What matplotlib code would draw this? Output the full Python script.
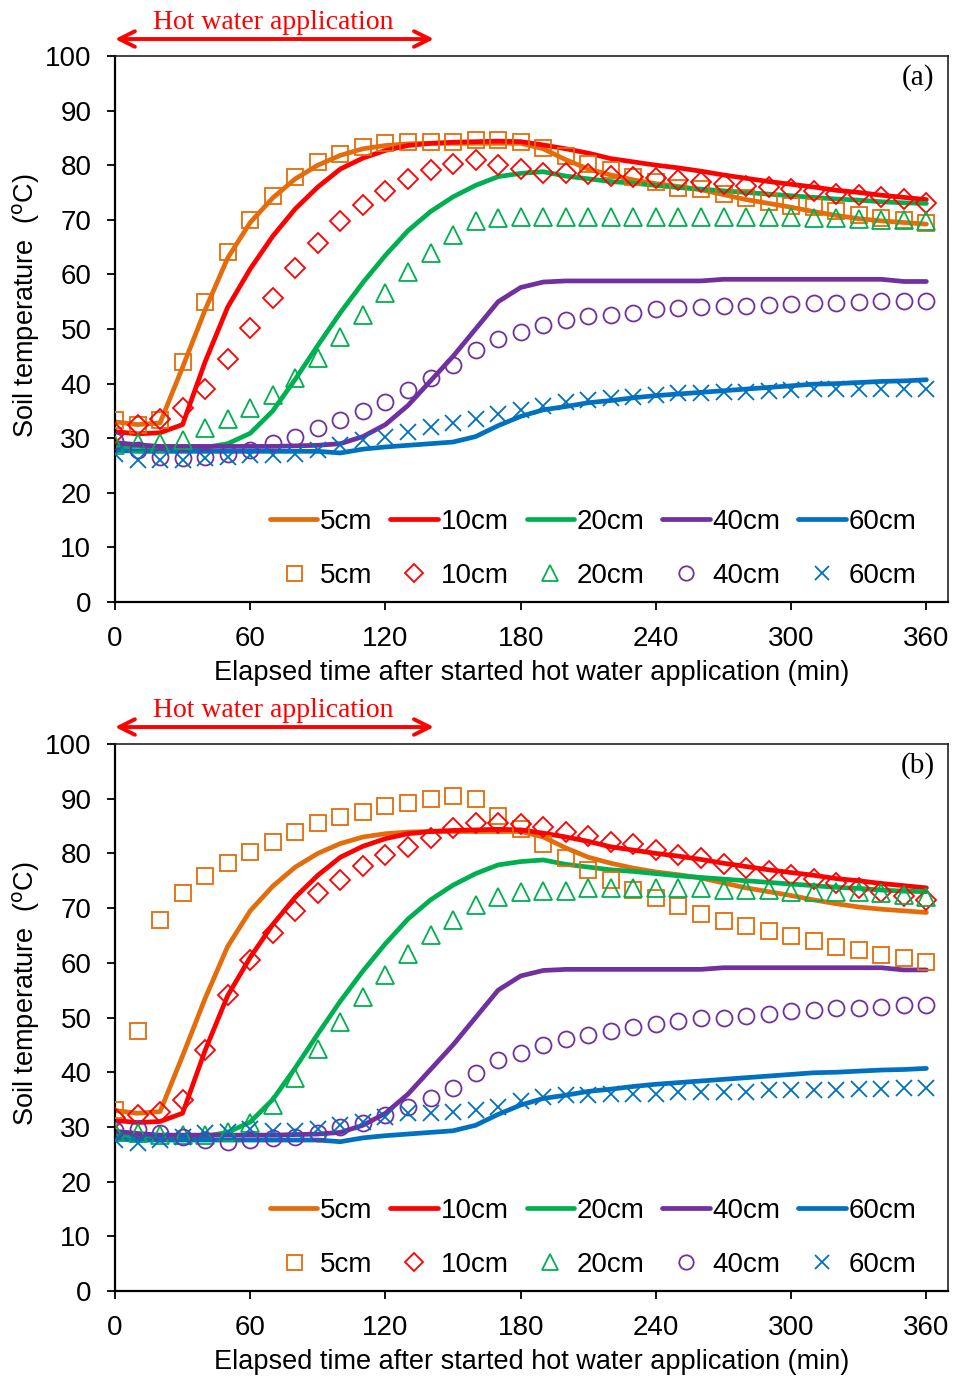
import numpy as np
import matplotlib.pyplot as plt
from matplotlib.lines import Line2D

plt.rcParams['font.family'] = ['Liberation Sans', 'DejaVu Sans']

# time axis (min), every 10 min
t = np.arange(0, 361, 10)

# simulated temperatures (lines) - shared by both panels
sim_5 = [33, 32.5, 32.8, 43, 53.5, 63, 69.5, 74, 77.5, 80, 81.8, 83, 83.6, 83.9, 84, 84, 84, 84, 84,
         83, 81, 79.3, 78.2, 77.3, 76.6, 76.1, 75.5, 74.6, 73.7, 73, 72.3, 71.5, 70.8, 70.2, 69.8, 69.5, 69.2]
sim_10 = [31.2, 30.8, 31, 32.5, 44, 54, 61, 67, 72, 76, 79.3, 81.3, 82.7, 83.6, 84, 84.2, 84.3, 84.4, 84.3,
          83.7, 83, 82.2, 81.2, 80.6, 80, 79.5, 78.9, 78.2, 77.6, 77, 76.5, 76, 75.4, 75, 74.5, 74.1, 73.7]
sim_20 = [28.5, 28.5, 28.3, 28.2, 28.3, 29, 30.9, 35, 40.8, 47, 53, 58.5, 63.5, 68, 71.5, 74.2, 76.3, 77.9, 78.5,
          78.8, 78, 77.5, 77, 76.7, 76.3, 75.9, 75.6, 75.3, 75, 74.7, 74.4, 74.1, 73.8, 73.6, 73.3, 73.1, 73]
sim_40 = [29.2, 28.8, 28.5, 28.5, 28.5, 28.5, 28.5, 28.5, 28.6, 28.7, 29, 30.3, 32.5, 36, 40.5, 45, 50, 55, 57.6,
          58.6, 58.8, 58.8, 58.8, 58.8, 58.8, 58.8, 58.8, 59.1, 59.1, 59.1, 59.1, 59.1, 59.1, 59.1, 59.1, 58.7, 58.7]
sim_60 = [27.8, 27.6, 27.6, 27.6, 27.6, 27.6, 27.6, 27.6, 27.6, 27.6, 27.3, 28, 28.4, 28.7, 29, 29.3, 30.3, 32.3, 34,
          35.2, 35.8, 36.5, 36.9, 37.4, 37.8, 38.1, 38.4, 38.7, 39, 39.3, 39.6, 39.9, 40, 40.2, 40.4, 40.5, 40.7]

# measured temperatures, panel (a)
obs_a_5 = [33.3, 32.5, 33.3, 44, 55, 64.1, 70, 74.4, 77.9, 80.5, 82, 83.4, 84, 84.3, 84.3, 84.3, 84.6, 84.6, 84.3,
           83.1, 81.6, 80.3, 79.1, 77.9, 77.0, 75.9, 75.6, 74.7, 73.9, 73.3, 72.5, 72.4, 71.6, 70.9, 70.3, 70, 69.4]
obs_a_10 = [31, 32.4, 33.6, 35.5, 39.1, 44.5, 50.2, 55.6, 61.1, 65.7, 69.7, 72.7, 75.3, 77.5, 79.1, 80.3, 81, 80, 79.3,
            78.6, 78.6, 78.4, 78, 77.8, 77.6, 77.3, 77, 76.6, 76.2, 76, 75.6, 75.3, 74.8, 74.5, 74.1, 73.8, 73.1]
obs_a_20 = [28.8, 29.1, 29.1, 29.7, 31.8, 33.6, 35.5, 37.9, 41, 44.6, 48.6, 52.6, 56.6, 60.5, 63.9, 67.2, 69.7, 70.3, 70.6,
            70.6, 70.6, 70.6, 70.6, 70.6, 70.6, 70.6, 70.6, 70.6, 70.6, 70.6, 70.5, 70.4, 70.3, 70.2, 70, 69.9, 69.7]
obs_a_40 = [29.4, 27.8, 26.6, 26.3, 26.6, 27.2, 27.8, 29.1, 30.3, 31.8, 33.3, 34.9, 36.7, 38.8, 41, 43.4, 46.2, 48.1, 49.5,
            50.7, 51.6, 52.3, 52.6, 53, 53.6, 53.8, 54, 54.2, 54.2, 54.4, 54.6, 54.8, 54.8, 55, 55.1, 55.1, 55.1]
obs_a_60 = [27.2, 26, 26, 26, 26.3, 26.6, 26.9, 26.9, 27.2, 27.8, 28.8, 29.7, 30.3, 31.2, 32.1, 32.7, 33.6, 34.5, 35.2,
            35.9, 36.7, 37, 37.3, 37.6, 37.9, 38.2, 38.3, 38.5, 38.5, 38.7, 38.8, 39, 39, 39.1, 39.1, 39.1, 39.1]

# measured temperatures, panel (b)
obs_b_5 = [33.1, 47.5, 67.8, 72.8, 75.9, 78.2, 80.3, 82.1, 83.9, 85.5, 86.7, 87.6, 88.7, 89.3, 89.9, 90.5, 89.9, 86.9, 84.5,
           81.7, 79.1, 77, 75.1, 73.4, 71.8, 70.3, 68.9, 67.7, 66.7, 65.9, 64.9, 63.9, 62.9, 62.3, 61.4, 60.8, 60.2]
obs_b_10 = [31.6, 32.2, 32.8, 34.9, 44.1, 54.1, 60.6, 65.4, 69.5, 72.7, 75.1, 77.7, 79.7, 81.2, 82.8, 84.6, 85.5, 85.5, 85.3,
            84.8, 84, 83.1, 82.1, 81.7, 80.7, 79.7, 79.1, 78.1, 77.3, 76.7, 76, 75.4, 74.5, 73.6, 73, 72.2, 71.5]
obs_b_20 = [29.1, 28.8, 28.5, 28.5, 28.5, 29.1, 30.7, 34, 38.9, 44.2, 49.2, 53.8, 57.8, 61.7, 65.1, 67.8, 70.6, 72, 72.9,
            73.1, 73.1, 73.6, 73.6, 73.6, 73.7, 73.7, 73.6, 73.4, 73.4, 73.3, 73, 73, 73, 73, 72.7, 72.4, 72.1]
obs_b_40 = [29.4, 29.7, 28.8, 28.2, 27.6, 27.3, 27.6, 27.9, 28.2, 28.9, 29.9, 30.8, 32.2, 33.7, 35.2, 37.2, 39.9, 42.2, 43.6,
            45, 46, 46.8, 47.6, 48.2, 48.8, 49.4, 49.9, 50, 50.3, 50.6, 51.1, 51.4, 51.7, 51.7, 51.9, 52.3, 52.3]
obs_b_60 = [27.6, 27, 27.6, 28.2, 28.8, 29.1, 29.7, 29.3, 29.3, 29.7, 30.3, 30.9, 31.9, 32.5, 32.5, 32.8, 33.1, 33.7, 34.7,
            35.5, 35.8, 35.8, 36, 36.1, 36.1, 36.3, 36.4, 36.4, 36.4, 36.7, 36.7, 36.7, 36.7, 37, 37, 37.2, 37.2]

depths = ['5cm', '10cm', '20cm', '40cm', '60cm']
colors = ['#E46C0A', '#FF0000', '#00B050', '#7030A0', '#0070C0']
markers = ['s', 'D', '^', 'o', 'x']
msizes = [12, 10.5, 12.5, 11.5, 11.5]

sims = [sim_5, sim_10, sim_20, sim_40, sim_60]
panels = [([obs_a_5, obs_a_10, obs_a_20, obs_a_40, obs_a_60], '(a)'),
          ([obs_b_5, obs_b_10, obs_b_20, obs_b_40, obs_b_60], '(b)')]

fig = plt.figure(figsize=(9.55, 13.78), dpi=100)
axes_pos = [[0.1204, 0.5631, 0.8723, 0.3963],
            [0.1204, 0.0631, 0.8723, 0.3970]]

for (obs, tag), pos in zip(panels, axes_pos):
    ax = fig.add_axes(pos)
    handles = []
    for i in range(5):
        ax.plot(t, sims[i], color=colors[i], lw=3.4, solid_capstyle='round', zorder=2)
        ax.plot(t, obs[i], ls='none', marker=markers[i], ms=msizes[i], mfc='none',
                mec=colors[i], mew=1.3, zorder=3)
        handles += [Line2D([], [], color=colors[i], lw=3.4, solid_capstyle='round'),
                    Line2D([], [], ls='none', marker=markers[i], ms=msizes[i] * 0.9, mfc='none',
                           mec=colors[i], mew=1.3)]
    labels = [d for d in depths for _ in range(2)]
    ax.legend(handles, labels, ncol=5, loc='lower right', bbox_to_anchor=(0.962, 0.024),
              frameon=False, fontsize=20, handlelength=1.7, handletextpad=0.1,
              columnspacing=0.65, labelspacing=1.0, borderpad=0, borderaxespad=0)

    ax.set_xlim(0, 369.6)
    ax.set_ylim(0, 100)
    ax.set_xticks(np.arange(0, 361, 60))
    ax.set_yticks(np.arange(0, 101, 10))
    ax.tick_params(direction='out', length=6, width=1.3, labelsize=20, pad=11)
    for s in ['left', 'bottom']:
        ax.spines[s].set_linewidth(1.6)
    for s in ['top', 'right']:
        ax.spines[s].set_linewidth(1.2)
        ax.spines[s].set_color('#222222')

    ax.set_xlabel('Elapsed time after started hot water application (min)', fontsize=19.5, labelpad=6)
    ax.set_ylabel('Soil temperature  ($^{\\mathrm{o}}$C)', fontsize=19.5)
    ax.yaxis.set_label_coords(-0.088, 0.543)
    ax.text(0.984, 0.961, tag, transform=ax.transAxes, ha='right', va='center',
            fontsize=21, family='Liberation Serif')

    # period of hot water application
    ax.annotate('', xy=(0, 103.1), xytext=(141.5, 103.1), annotation_clip=False,
                arrowprops=dict(arrowstyle='<->', color='red', lw=2.8, mutation_scale=28,
                                shrinkA=0, shrinkB=0))
    ax.text(70, 106.2, 'Hot water application', color='red', fontsize=20, family='Liberation Serif',
            ha='center', va='center', clip_on=False)

fig.savefig('out.png', dpi=100)
